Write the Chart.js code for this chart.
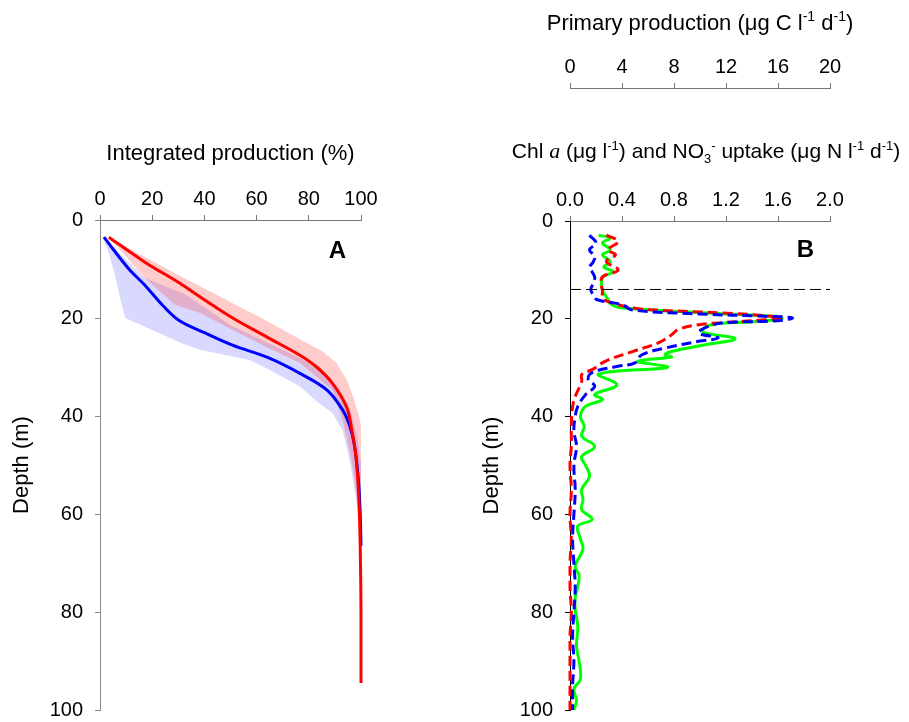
<!DOCTYPE html>
<html>
<head>
<meta charset="utf-8">
<script src="https://cdn.jsdelivr.net/npm/chart.js@4.4.1/dist/chart.umd.min.js"></script>
<style>
  html, body { margin: 0; padding: 0; background: #fff; }
  body { width: 909px; height: 722px; position: relative; overflow: hidden; }
  #chartA { position: absolute; left: 0; top: 0; }
  #chartB { position: absolute; left: 470px; top: 0; }
</style>
</head>
<body>
<canvas id="chartA" width="440" height="722"></canvas>
<canvas id="chartB" width="439" height="722"></canvas>
<script>
// ---- Panel A: integrated production (%) vs depth ----
const redLineProd  = [3.4, 17.2, 30, 36.4, 42.9, 51.5, 64, 76.6, 83, 89, 94.5, 96.5, 98, 99, 99.5, 99.8, 100, 100];
const redLineDepth = [3.5, 8.6, 12.7, 15, 17.3, 20.2, 23.9, 27.6, 30, 33.3, 38.2, 42.9, 48, 55, 62, 70, 80, 94.5];

const blueLineProd  = [1.5, 10.9, 17.2, 23.8, 30, 40, 51, 64, 76.6, 87, 93, 95.8, 97.5, 99, 99.7, 100];
const blueLineDepth = [3.5, 9.9, 13.3, 17.3, 20.4, 23, 25.6, 28, 31.3, 34.7, 38.8, 42.2, 46, 53, 60, 66.5];

// band outlines: down one edge, back up the other
const redBandProd  = [3.4, 10, 17, 28.7, 38.3, 51, 64, 76.6, 89, 93, 96, 97.5, 99, 99.5,
                      100.5, 101, 100.8, 99.6, 97, 94.5, 90.6, 85.5, 60, 30, 3.4];
const redBandDepth = [3.5, 7.5, 11.8, 17.3, 19, 22.5, 26, 29.2, 34.7, 41, 48, 53, 60, 62,
                      57, 51.6, 45, 40.8, 36, 32.6, 29.2, 26.9, 19.5, 11.2, 3.5];

const blueBandProd  = [1.3, 3.5, 5.7, 7.5, 9.6, 17.2, 30.6, 38.3, 57.5, 64, 76.6, 83, 89, 93, 96, 98.5, 100,
                       100.3, 100, 98.5, 96, 93, 87, 78, 62, 50, 42, 32, 25, 17, 8, 1.5];
const blueBandDepth = [3.6, 7, 11.2, 15.5, 20, 21.8, 25, 26.5, 28.6, 30.3, 34, 37, 39.4, 43, 50, 58, 66.5,
                       58, 50, 44, 39, 35.5, 31.5, 28.5, 24.5, 21.5, 18.5, 15, 13.5, 11.8, 7, 3.5];

// ---- Panel B: profiles vs depth ----
const redDepth = [2.9, 4.2, 5.9, 6.9, 8.3, 10, 11.4, 12.8, 14.4, 15.8, 16.8, 17.8, 18.2, 18.9, 19.5, 19.8, 20.2, 20.8,
                  21.2, 22.2, 23.3, 24.9, 26.7, 28.7, 30.4, 31.4, 32.8, 35.9, 38, 42, 46, 50, 55, 60, 65, 70, 75,
                  80, 85, 90, 95, 100];
const redVal   = [0.28, 0.37, 0.29, 0.35, 0.28, 0.37, 0.25, 0.24, 0.25, 0.25, 0.33, 0.49, 0.65, 1.25, 1.55, 1.63, 1.5, 1.17,
                  0.99, 0.83, 0.78, 0.68, 0.48, 0.27, 0.17, 0.09, 0.09, 0.04, 0.02, 0.01, 0.01, 0.0, 0.01, 0.0, 0.01, 0.0, 0.0,
                  0.01, 0.0, 0.0, 0.0, 0.0];

const blueDepth = [2.9, 4.5, 5.9, 7.2, 8.3, 9.5, 10.4, 11.5, 12.7, 14, 15.1, 16.1, 17.1, 18.2, 19, 19.5, 19.8, 20.4,
                   20.8, 21.6, 22.9, 23.9, 24.6, 26, 27.4, 29, 29.7, 31, 32.4, 33.8, 35.5, 37.9, 40, 43, 46, 50, 55,
                   60, 65, 70, 75, 80, 85, 90, 95, 100];
const blueVal   = [0.15, 0.2, 0.15, 0.19, 0.18, 0.15, 0.17, 0.19, 0.18, 0.16, 0.18, 0.21, 0.4, 0.48, 0.99, 1.5, 1.71, 1.6,
                   1.19, 1.06, 0.99, 1.14, 0.99, 0.73, 0.55, 0.5, 0.37, 0.17, 0.14, 0.19, 0.12, 0.06, 0.04, 0.03, 0.05, 0.03, 0.04,
                   0.03, 0.02, 0.03, 0.04, 0.03, 0.02, 0.03, 0.02, 0.02];

const greenDepth = [2.9, 3.5, 4.5, 5.9, 6.9, 8.3, 9.4, 10.4, 11.6, 14.1, 15.5, 17.1, 17.8, 18.8, 19.5, 20, 20.6, 21.2,
                    22.2, 22.9, 24.1, 25.3, 26.7, 27.4, 27.8, 28.7, 29.9, 31.3, 33.5, 35.5, 36.5, 37.9, 40, 42, 44,
                    46.1, 48.2, 50, 52.2, 54.9, 57, 59, 61, 62.4, 65, 67.1, 70.6, 72.5, 74.7, 77, 79.4, 83, 86.9,
                    90, 93.7, 95.7, 98, 100];
const greenVal   = [0.22, 0.31, 0.25, 0.31, 0.25, 0.31, 0.26, 0.33, 0.25, 0.25, 0.28, 0.32, 0.41, 1.05, 1.56, 1.63, 1.4, 1.09,
                    1.02, 1.04, 1.27, 1.04, 0.78, 0.73, 0.78, 0.52, 0.75, 0.22, 0.36, 0.19, 0.25, 0.12, 0.08, 0.11, 0.09,
                    0.19, 0.09, 0.12, 0.15, 0.09, 0.1, 0.09, 0.17, 0.06, 0.08, 0.1, 0.04, 0.07, 0.06, 0.04, 0.04, 0.06, 0.05,
                    0.07, 0.08, 0.03, 0.05, 0.03];

const mixedDepth = 14;   // dashed line
const depthTicks = 20;

// axis titles with super/subscripts: [text, style]
const chlTitle = [['Chl '], ['a', 'it'], [' (μg l'], ['-1', 'sup'], [') and NO'], ['3', 'sub'], ['-', 'sup'],
                  [' uptake (μg N l'], ['-1', 'sup'], [' d'], ['-1', 'sup'], [')']];
const ppTitle  = [['Primary production (μg C l'], ['-1', 'sup'], [' d'], ['-1', 'sup'], [')']];

const FONT = "'Liberation Sans', Arial, sans-serif";
Chart.defaults.font.family = FONT;
Chart.defaults.font.size = 20;
Chart.defaults.color = '#000';

const pts = (xs, ys) => xs.map((v, i) => ({ x: v, y: ys[i] }));

const panelLetter = {
  id: 'panelLetter',
  afterDatasetsDraw(chart, args, opts) {
    const { ctx, scales: { x, y } } = chart;
    ctx.save();
    ctx.font = 'bold 24px ' + FONT;
    ctx.fillStyle = '#000';
    ctx.textAlign = 'center';
    ctx.textBaseline = 'middle';
    ctx.fillText(opts.text, x.getPixelForValue(opts.x), y.getPixelForValue(opts.y));
    ctx.restore();
  }
};

// draws rich axis titles above a given scale
const richTitle = {
  id: 'richTitle',
  afterDraw(chart, args, opts) {
    const { ctx, chartArea } = chart;
    (opts.items || []).forEach(item => {
      const size = item.size;
      const fontOf = st => st === 'it' ? `italic ${size + 1}px 'Liberation Serif', serif`
                        : (st === 'sup' || st === 'sub') ? Math.round(size * 0.62) + 'px ' + FONT : size + 'px ' + FONT;
      ctx.save();
      ctx.fillStyle = '#000';
      ctx.textBaseline = 'alphabetic';
      ctx.textAlign = 'left';
      let w = 0;
      item.parts.forEach(([t, st]) => { ctx.font = fontOf(st); w += ctx.measureText(t).width; });
      let x = (chartArea.left + chartArea.right) / 2 - w / 2 + (item.dx || 0);
      const base = chart.scales[item.scale].top + item.baseline;
      item.parts.forEach(([t, st]) => {
        ctx.font = fontOf(st);
        const dy = st === 'sup' ? -size * 0.4 : st === 'sub' ? size * 0.22 : 0;
        ctx.fillText(t, x, base + dy);
        x += ctx.measureText(t).width;
      });
      ctx.restore();
    });
  }
};

function depthAxis(lineColor) {
  return {
    type: 'linear',
    reverse: true,
    min: 0, max: 100,
    ticks: { stepSize: depthTicks, padding: 12 },
    grid: { drawOnChartArea: false, tickLength: 5, tickColor: lineColor },
    border: { color: lineColor },
    title: { display: true, text: 'Depth (m)', font: { size: 22 }, padding: { top: 9, bottom: 0 } },
    afterFit: s => { s.width = 100; s.paddingTop = 0; s.paddingBottom = 12; }
  };
}

function topAxis(min, max, step, title, titleTop, height, weight, fmt) {
  return {
    type: 'linear',
    position: 'top',
    min, max, weight,
    ticks: { stepSize: step, padding: 4, callback: fmt || (v => v) },
    grid: { drawOnChartArea: false, tickLength: 5, tickColor: '#777' },
    border: { color: '#777' },
    title: { display: !!title, text: title || '', font: { size: 22 }, padding: { top: titleTop, bottom: 0 } },
    afterFit: s => { s.height = height; }
  };
}

const plainLine = (data, color, order, extra) => Object.assign({
  data, showLine: true, borderColor: color, borderWidth: 3,
  pointRadius: 0, fill: false, tension: 0.35, order, clip: 6
}, extra || {});

new Chart(document.getElementById('chartA'), {
  type: 'scatter',
  data: {
    datasets: [
      plainLine(pts(redLineProd, redLineDepth), '#ff0000', 1),
      plainLine(pts(blueLineProd, blueLineDepth), '#0000ff', 2),
      { data: pts(redBandProd, redBandDepth), showLine: true, borderWidth: 0, borderColor: 'transparent',
        backgroundColor: 'rgba(255,0,0,0.2)', fill: 'shape', pointRadius: 0, tension: 0, order: 3, clip: false },
      { data: pts(blueBandProd, blueBandDepth), showLine: true, borderWidth: 0, borderColor: 'transparent',
        backgroundColor: 'rgba(0,0,255,0.15)', fill: 'shape', pointRadius: 0, tension: 0, order: 4, clip: false }
    ]
  },
  options: {
    responsive: false,
    animation: false,
    layout: { padding: { left: 0, top: 0, right: 79, bottom: 12 } },
    plugins: {
      legend: { display: false },
      tooltip: { enabled: false },
      panelLetter: { text: 'A', x: 91, y: 6.5 }
    },
    scales: {
      x: topAxis(0, 100, 20, 'Integrated production (%)', 141, 220, 0),
      y: depthAxis('#888')
    }
  },
  plugins: [panelLetter]
});

new Chart(document.getElementById('chartB'), {
  type: 'scatter',
  data: {
    datasets: [
      plainLine(pts([0, 2], [mixedDepth, mixedDepth]), '#000', 0, { borderWidth: 1, borderDash: [11, 5], tension: 0, clip: false }),
      plainLine(pts(blueVal, blueDepth), '#0000ff', 1, { borderDash: [10, 5], tension: 0.4 }),
      plainLine(pts(redVal, redDepth), '#ff0000', 2, { borderDash: [10, 5], tension: 0.4 }),
      plainLine(pts(greenVal, greenDepth), '#00ff00', 3, { tension: 0.4 })
    ]
  },
  options: {
    responsive: false,
    animation: false,
    layout: { padding: { left: 0, top: 0, right: 79, bottom: 11 } },
    plugins: {
      legend: { display: false },
      tooltip: { enabled: false },
      panelLetter: { text: 'B', x: 1.81, y: 6 },
      richTitle: { items: [
        { parts: chlTitle, scale: 'x', baseline: 70, dx: 6, size: 21 },
        { parts: ppTitle, scale: 'x2', baseline: 30, dx: 0, size: 22 }
      ] }
    },
    scales: {
      x: topAxis(0, 2, 0.4, null, 0, 133, 0, v => v.toFixed(1)),
      x2: topAxis(0, 20, 4, null, 0, 88, 1),
      y: depthAxis('#000')
    }
  },
  plugins: [panelLetter, richTitle]
});
</script>
</body>
</html>
